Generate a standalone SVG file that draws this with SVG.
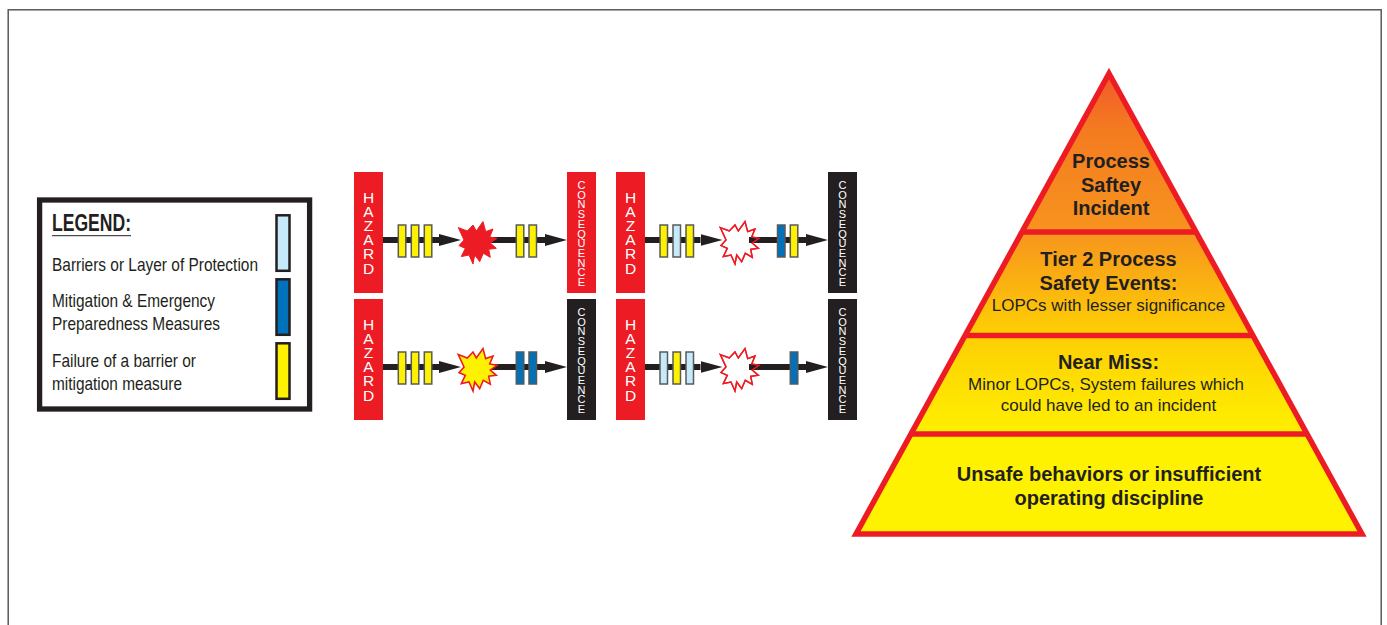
<svg xmlns="http://www.w3.org/2000/svg" width="1387" height="625" viewBox="0 0 1387 625">
<style>
text{font-family:"Liberation Sans",Arial,sans-serif;fill:#231f20}
.b{font-weight:700}
.lg{font-size:18.5px}
.lt{font-size:20px;font-weight:700;text-anchor:middle}
.ls{font-size:17px;text-anchor:middle}
.haz{fill:#ed1c24}
.blk{fill:#231f20}
.v1,.v2{writing-mode:vertical-rl;text-orientation:upright;fill:#fff}
.v1{font-size:15.5px;letter-spacing:-2.9px}
.v2{font-size:11px;letter-spacing:-2.3px}
.wire{stroke:#231f20;stroke-width:6;marker-end:url(#ah)}
.by,.bl,.bb{stroke:#58595b;stroke-width:1.5}
.by{fill:#fff200}.bl{fill:#c7eafb}.bb{fill:#0072bc}
.sw{stroke:#231f20;stroke-width:2.5}
.lay{fill:none;stroke:#ed1c24;stroke-width:5.5;stroke-miterlimit:10}
</style>
<defs>
<marker id="ah" markerUnits="userSpaceOnUse" markerWidth="23" markerHeight="12" refX="0" refY="6" orient="auto"><path d="M0,0L22,6L0,12Z" fill="#231f20"/></marker>
<path id="star" d="M-18.7-14.7L-9.7-11.3L-4-17.3L-.7-11.3L6-20.7L8.7-10.7L16-13.3L12.7-5.3L20-4L13.3.7L19.3 6L11.7 7L13.3 15L6.3 11L2.7 19.3L-2.3 12.7L-4 21.7L-8 12.7L-15.7 14.3L-11.7 6L-18 3.3L-13-2.3Z"/>
<linearGradient id="pg" gradientUnits="userSpaceOnUse" x1="0" y1="75" x2="0" y2="440">
<stop offset="0" stop-color="#f15a29"/><stop offset=".15" stop-color="#f47b20"/><stop offset=".43" stop-color="#f7941e"/><stop offset=".7" stop-color="#fdcd04"/><stop offset="1" stop-color="#fff200"/>
</linearGradient>
</defs>
<rect id="frame" x="8.2" y="9.8" width="1373" height="720" fill="#fff" stroke="#58595b" stroke-width="1.5"/>

<g id="legend">
<rect x="39.6" y="200" width="270" height="209" fill="#fff" stroke="#231f20" stroke-width="5.3"/>
<text class="b" x="52" y="231" font-size="23" textLength="79" lengthAdjust="spacingAndGlyphs">LEGEND:</text>
<line x1="52" y1="235.7" x2="131" y2="235.7" stroke="#231f20" stroke-width="1"/>
<text class="lg" x="52" y="271" textLength="206" lengthAdjust="spacingAndGlyphs">Barriers or Layer of Protection</text>
<text class="lg" x="52" y="306.7" textLength="163" lengthAdjust="spacingAndGlyphs">Mitigation &amp; Emergency</text>
<text class="lg" x="52" y="329.5" textLength="168" lengthAdjust="spacingAndGlyphs">Preparedness Measures</text>
<text class="lg" x="52" y="366.7" textLength="144" lengthAdjust="spacingAndGlyphs">Failure of a barrier or</text>
<text class="lg" x="52" y="389.5" textLength="130" lengthAdjust="spacingAndGlyphs">mitigation measure</text>
<rect class="sw" x="276.5" y="215.3" width="13" height="55.5" fill="#c7eafb"/>
<rect class="sw" x="276.5" y="279.3" width="13" height="55.5" fill="#0072bc"/>
<rect class="sw" x="276.5" y="343.3" width="13" height="55.5" fill="#fff200"/>
</g>

<g id="hazard-1"><rect class="haz" x="354" y="172" width="29" height="121"/><text class="v1" x="368.5" y="189">HAZARD</text></g>
<g id="hazard-2"><rect class="haz" x="354" y="299" width="29" height="121"/><text class="v1" x="368.5" y="316">HAZARD</text></g>
<g id="hazard-3"><rect class="haz" x="616" y="172" width="29" height="121"/><text class="v1" x="630.5" y="189">HAZARD</text></g>
<g id="hazard-4"><rect class="haz" x="616" y="299" width="29" height="121"/><text class="v1" x="630.5" y="316">HAZARD</text></g>

<g id="consequence-1"><rect class="haz" x="567" y="172" width="29" height="121"/><text class="v2" x="581.5" y="179">CONSEQUENCE</text></g>
<g id="consequence-2"><rect class="blk" x="567" y="299" width="29" height="121"/><text class="v2" x="581.5" y="306">CONSEQUENCE</text></g>
<g id="consequence-3"><rect class="blk" x="828" y="172" width="29" height="121"/><text class="v2" x="842.5" y="179">CONSEQUENCE</text></g>
<g id="consequence-4"><rect class="blk" x="828" y="299" width="29" height="121"/><text class="v2" x="842.5" y="306">CONSEQUENCE</text></g>

<g id="event-3"><use href="#star" x="739" y="242.3" fill="#fff" stroke="#ed1c24" stroke-width="1.4"/></g>
<g id="event-4"><use href="#star" x="739" y="369.3" fill="#fff" stroke="#ed1c24" stroke-width="1.4"/></g>

<g id="connectors">
<line class="wire" x1="383" y1="240" x2="439" y2="240"/>
<line class="wire" x1="480" y1="240" x2="545" y2="240"/>
<line class="wire" x1="383" y1="367" x2="439" y2="367"/>
<line class="wire" x1="480" y1="367" x2="545" y2="367"/>
<line class="wire" x1="645" y1="240" x2="700.5" y2="240"/>
<line class="wire" x1="749" y1="240" x2="806" y2="240"/>
<line class="wire" x1="645" y1="367" x2="700.5" y2="367"/>
<line class="wire" x1="749" y1="367" x2="806" y2="367"/>
</g>

<g id="event-3-outline"><use href="#star" x="739" y="242.3" fill="none" stroke="#ed1c24" stroke-width="1.4"/></g>
<g id="event-4-outline"><use href="#star" x="739" y="369.3" fill="none" stroke="#ed1c24" stroke-width="1.4"/></g>
<g id="event-1"><use href="#star" x="477" y="242.3" fill="#ed1c24" stroke="#ed1c24" stroke-width="1"/></g>
<g id="event-2"><use href="#star" x="477" y="369.3" fill="#fff200" stroke="#ed1c24" stroke-width="1.6"/></g>

<g id="barriers-1"><rect class="by" x="398.3" y="225" width="7.5" height="32"/><rect class="by" x="411.3" y="225" width="7.5" height="32"/><rect class="by" x="424.3" y="225" width="7.5" height="32"/><rect class="by" x="516.3" y="225" width="7.5" height="32"/><rect class="by" x="529" y="225" width="7.5" height="32"/></g>
<g id="barriers-2"><rect class="by" x="398.3" y="352" width="7.5" height="32"/><rect class="by" x="411.3" y="352" width="7.5" height="32"/><rect class="by" x="424.3" y="352" width="7.5" height="32"/><rect class="bb" x="516.3" y="352" width="7.5" height="32"/><rect class="bb" x="529" y="352" width="7.5" height="32"/></g>
<g id="barriers-3"><rect class="by" x="660" y="225" width="7.5" height="32"/><rect class="bl" x="673" y="225" width="7.5" height="32"/><rect class="by" x="686" y="225" width="7.5" height="32"/><rect class="bb" x="777.5" y="225" width="7.5" height="32"/><rect class="by" x="790.3" y="225" width="7.5" height="32"/></g>
<g id="barriers-4"><rect class="bl" x="660" y="352" width="7.5" height="32"/><rect class="by" x="673" y="352" width="7.5" height="32"/><rect class="bl" x="686" y="352" width="7.5" height="32"/><rect class="bb" x="790.3" y="352" width="7.5" height="32"/></g>

<g id="pyramid">
<path d="M1109 72.5L1362.5 534H855.5Z" fill="url(#pg)"/>
<path class="lay" d="M1109 73.5L1362 534H856Z"/>
<line class="lay" x1="1023" y1="232" x2="1195" y2="232"/>
<line class="lay" x1="966" y1="335.5" x2="1252" y2="335.5"/>
<line class="lay" x1="912" y1="434" x2="1306" y2="434"/>
</g>
<g id="tier-psi"><text class="lt"><tspan x="1111" y="168">Process</tspan><tspan x="1111" y="191.7">Saftey</tspan><tspan x="1111" y="215">Incident</tspan></text></g>
<g id="tier-2"><text class="lt"><tspan x="1108.5" y="266">Tier 2 Process</tspan><tspan x="1108.5" y="290">Safety Events:</tspan></text><text class="ls" x="1108.5" y="311">LOPCs with lesser significance</text></g>
<g id="tier-near"><text class="lt" x="1108.5" y="369.3">Near Miss:</text><text class="ls"><tspan x="1106" y="390">Minor LOPCs, System failures which</tspan><tspan x="1108.5" y="411">could have led to an incident</tspan></text></g>
<g id="tier-base"><text class="lt"><tspan x="1109" y="481">Unsafe behaviors or insufficient</tspan><tspan x="1109" y="505">operating discipline</tspan></text></g>
</svg>
